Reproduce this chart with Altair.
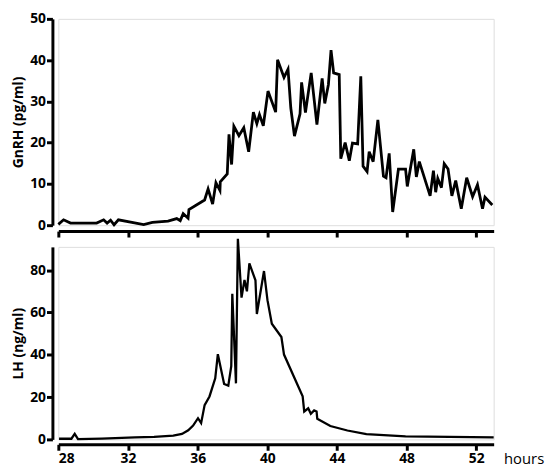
import altair as alt
import pandas as pd

# GnRH (pg/ml) series
gnrh_t = [28.0, 28.3, 28.7, 30.2, 30.6, 30.8, 31.0, 31.2, 31.45, 32.9, 33.4, 34.3, 34.8, 35.0,
          35.17, 35.45, 35.5, 36.4, 36.6, 36.86, 37.05, 37.28, 37.3, 37.7, 37.8, 37.95, 38.08,
          38.37, 38.65, 38.93, 39.2, 39.4, 39.55, 39.77, 40.04, 40.48, 40.59, 40.96, 41.19,
          41.35, 41.56, 41.88, 41.97, 42.19, 42.52, 42.85, 43.15, 43.3, 43.51, 43.66, 43.81,
          44.13, 44.22, 44.47, 44.71, 44.89, 45.19, 45.37, 45.5, 45.73, 45.85, 46.08, 46.35,
          46.67, 46.82, 47.0, 47.2, 47.53, 47.94, 48.04, 48.41, 48.56, 48.73, 49.35, 49.54,
          49.67, 49.79, 50.0, 50.16, 50.38, 50.6, 50.82, 51.14, 51.45, 51.79, 52.07, 52.36,
          52.5, 52.92]
gnrh_v = [0.2, 1.3, 0.5, 0.5, 1.3, 0.5, 1.2, 0.1, 1.3, 0.15, 0.7, 1.0, 1.6, 1.1,
          2.8, 1.7, 3.8, 6.1, 8.8, 5.1, 10.3, 8.4, 10.5, 12.4, 22.0, 14.7, 24.0,
          21.7, 23.6, 17.8, 27.4, 24.6, 26.8, 24.1, 32.5, 27.4, 40.1, 35.8, 37.8,
          28.4, 21.6, 27.0, 34.6, 27.3, 36.9, 24.4, 35.6, 29.5, 34.1, 42.4, 36.9,
          36.5, 16.1, 20.0, 15.6, 19.9, 19.7, 36.1, 14.3, 13.0, 17.8, 15.4, 25.5,
          11.9, 11.5, 17.4, 3.2, 13.6, 13.6, 9.4, 18.4, 11.7, 15.4, 7.1, 13.2,
          8.0, 11.3, 9.1, 14.9, 13.6, 7.1, 10.8, 4.0, 11.5, 6.9, 9.8, 4.0,
          6.8, 4.9]

# LH (ng/ml) series
lh_t = [28.04, 28.75, 28.94, 29.13, 30.5, 32.4, 33.5, 34.6, 35.1, 35.46, 35.74, 36.02, 36.2,
        36.4, 36.68, 37.01, 37.16, 37.52, 37.76, 37.93, 37.99, 38.2, 38.31, 38.52, 38.69,
        38.83, 38.97, 39.32, 39.4, 39.81, 40.01, 40.26, 40.81, 40.96, 42.03, 42.12, 42.35,
        42.5, 42.69, 42.83, 42.87, 43.62, 44.6, 45.69, 47.94, 53.0]
lh_v = [0.3, 0.3, 2.6, 0.1, 0.4, 0.9, 1.2, 1.8, 2.6, 4.3, 6.5, 10.0, 7.7,
        16.2, 20.3, 28.9, 40.3, 26.2, 25.4, 34.6, 68.8, 26.5, 94.8, 67.0, 75.4,
        70.0, 83.2, 75.2, 59.3, 79.6, 65.8, 54.7, 48.4, 40.1, 20.4, 13.2, 14.7,
        12.1, 13.7, 13.2, 9.7, 6.3, 4.2, 2.5, 1.4, 0.9]

x_ticks = [28, 32, 36, 40, 44, 48, 52]
gnrh_ticks = [0, 10, 20, 30, 40, 50]
lh_ticks = [0, 20, 40, 60, 80]

W = 441
FONT = "Open Sans"

df_g = pd.DataFrame({"t": gnrh_t, "v": gnrh_v})
df_l = pd.DataFrame({"t": lh_t, "v": lh_v})

xscale = alt.Scale(domain=[28, 53], nice=False, zero=False)

common = dict(
    grid=False, domainColor="black", domainWidth=3, tickColor="black", tickWidth=3,
    tickSize=6, labelColor="black", labelFont=FONT, labelFontWeight="bold",
    labelFontSize=14, titleColor="black", titleFont=FONT, titleFontWeight="bold",
    titleFontSize=14,
)

top = alt.Chart(df_g).mark_line(color="black", strokeWidth=2.8, clip=False).encode(
    x=alt.X("t:Q", scale=xscale,
            axis=alt.Axis(values=x_ticks, labels=False, title=None, offset=6, **common)),
    y=alt.Y("v:Q", scale=alt.Scale(domain=[0, 50], nice=False),
            axis=alt.Axis(values=gnrh_ticks, title="GnRH (pg/ml)", offset=6,
                          labelPadding=1, titlePadding=4, **common)),
).properties(width=W, height=209)

bottom = alt.Chart(df_l).mark_line(color="black", strokeWidth=2.3, clip=False).encode(
    x=alt.X("t:Q", scale=xscale,
            axis=alt.Axis(values=x_ticks, format="d", title="hours", offset=5,
                          labelPadding=1, titleX=W + 10, titleY=19, titleAlign="left",
                          titleBaseline="alphabetic", titleAngle=0,
                          **{**common, "titleFontWeight": "normal", "titleFontSize": 15})),
    y=alt.Y("v:Q", scale=alt.Scale(domain=[0, 91], nice=False),
            axis=alt.Axis(values=lh_ticks, title="LH (ng/ml)", offset=6,
                          labelPadding=1, titlePadding=4, **common)),
).properties(width=W, height=195)

chart = alt.vconcat(top, bottom, spacing=-6).configure_view(stroke=None).configure(
    background="white", padding={"left": 3, "top": 0, "right": 0, "bottom": 0}
)

chart.save("out.html", embed_options={"renderer": "svg", "actions": False})
